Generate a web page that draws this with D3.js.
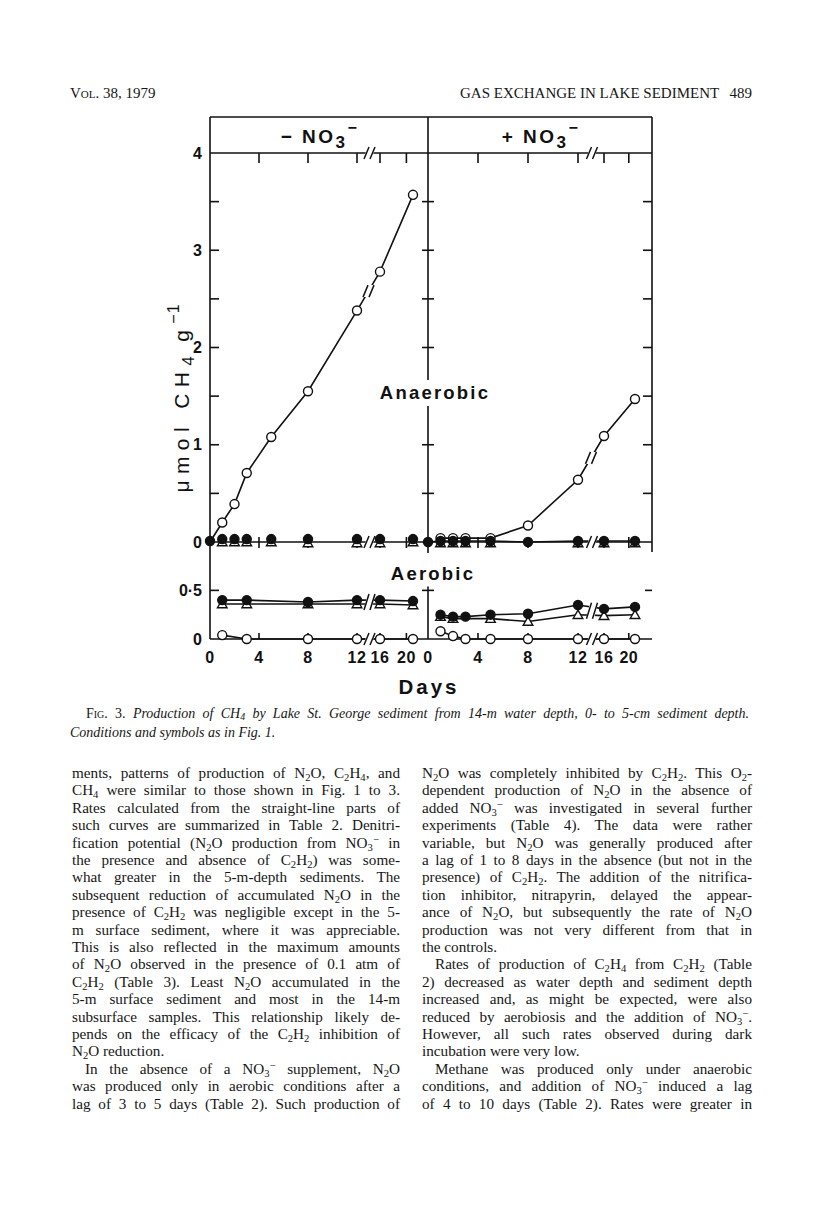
<!DOCTYPE html>
<html><head><meta charset="utf-8">
<script src="https://cdn.jsdelivr.net/npm/d3@7/dist/d3.min.js"></script>
<style>
body{margin:0;background:#fff;}
#page{position:relative;width:816px;height:1211px;overflow:hidden;background:#fff;}
#page svg{position:absolute;left:0;top:0;}
.ln{position:absolute;white-space:nowrap;font-family:"Liberation Serif","Times New Roman",serif;font-size:15.2px;line-height:17.4px;color:#161616;}
.cap{position:absolute;white-space:nowrap;font-family:"Liberation Serif",serif;font-size:14px;line-height:18px;color:#161616;}
.hd{position:absolute;white-space:nowrap;font-family:"Liberation Serif",serif;font-size:15px;line-height:18px;color:#161616;}
sub{font-size:0.7em;vertical-align:-0.25em;line-height:0;}
sup{font-size:0.7em;vertical-align:0.45em;line-height:0;}
.sc{font-variant:small-caps;font-style:normal;}
</style></head>
<body><div id="page"></div>
<script>
// ---------------- DATA ----------------
const dayTicks = [0, 4, 8, 12, 16, 20];
const yTicksAnaerobic = [0, 1, 2, 3, 4];
const yTicksAerobic = [0, 0.5];
const panelHeaders = ["−NO3", "+NO3"];

// − NO3− panel, anaerobic
const L_an_open_days = [0, 1, 2, 3, 5, 8, 12, 16, 21];
const L_an_open = [0, 0.20, 0.39, 0.71, 1.08, 1.55, 2.38, 2.78, 3.57];
const L_an_filled_days = [0, 1, 2, 3, 5, 8, 12, 16, 21];
const L_an_filled = [0.01, 0.03, 0.03, 0.03, 0.03, 0.03, 0.03, 0.03, 0.03];
const L_an_tri_days = [1, 2, 3, 5, 8, 12, 16, 21];
const L_an_tri = [0, 0, 0, 0, -0.01, -0.01, -0.01, 0];
// − NO3− panel, aerobic
const L_ae_filled_days = [1, 3, 8, 12, 16, 21];
const L_ae_filled = [0.40, 0.40, 0.38, 0.40, 0.40, 0.39];
const L_ae_tri_days = [1, 3, 8, 12, 16, 21];
const L_ae_tri = [0.36, 0.36, 0.36, 0.36, 0.36, 0.35];
const L_ae_open_days = [1, 3, 8, 12, 16, 21];
const L_ae_open = [0.04, 0, 0, 0, 0, 0];

// + NO3− panel, anaerobic
const R_an_open_days = [1, 2, 3, 5, 8, 12, 16, 21];
const R_an_open = [0.04, 0.04, 0.04, 0.04, 0.17, 0.64, 1.09, 1.47];
const R_an_filled_days = [0, 1, 2, 3, 5, 8, 12, 16, 21];
const R_an_filled = [0, 0.01, 0.01, 0.01, 0.01, 0, 0.01, 0.01, 0.01];
const R_an_tri_days = [1, 2, 3, 5, 12, 16, 21];
const R_an_tri = [-0.01, -0.01, -0.01, -0.01, -0.01, -0.01, -0.01];
// + NO3− panel, aerobic
const R_ae_filled_days = [1, 2, 3, 5, 8, 12, 16, 21];
const R_ae_filled = [0.25, 0.23, 0.23, 0.25, 0.26, 0.35, 0.31, 0.33];
const R_ae_tri_days = [1, 2, 5, 8, 12, 16, 21];
const R_ae_tri = [0.23, 0.21, 0.21, 0.18, 0.25, 0.24, 0.25];
const R_ae_open_days = [1, 2, 3, 5, 8, 12, 16, 21];
const R_ae_open = [0.08, 0.03, 0, 0, 0, 0, 0, 0];

// ---------------- TEXT ----------------
const captionLines = [
  '<span class="sc">Fig.</span> 3. <i>Production of CH<sub>4</sub> by Lake St. George sediment from 14-m water depth, 0- to 5-cm sediment depth.</i>',
  '<i>Conditions and symbols as in Fig. 1.</i>'
];
const leftCol = [
 'ments, patterns of production of N<sub>2</sub>O, C<sub>2</sub>H<sub>4</sub>, and',
 'CH<sub>4</sub> were similar to those shown in Fig. 1 to 3.',
 'Rates calculated from the straight-line parts of',
 'such curves are summarized in Table 2. Denitri-',
 'fication potential (N<sub>2</sub>O production from NO<sub>3</sub><sup>−</sup> in',
 'the presence and absence of C<sub>2</sub>H<sub>2</sub>) was some-',
 'what greater in the 5-m-depth sediments. The',
 'subsequent reduction of accumulated N<sub>2</sub>O in the',
 'presence of C<sub>2</sub>H<sub>2</sub> was negligible except in the 5-',
 'm surface sediment, where it was appreciable.',
 'This is also reflected in the maximum amounts',
 'of N<sub>2</sub>O observed in the presence of 0.1 atm of',
 'C<sub>2</sub>H<sub>2</sub> (Table 3). Least N<sub>2</sub>O accumulated in the',
 '5-m surface sediment and most in the 14-m',
 'subsurface samples. This relationship likely de-',
 'pends on the efficacy of the C<sub>2</sub>H<sub>2</sub> inhibition of',
 'N<sub>2</sub>O reduction.',
 'In the absence of a NO<sub>3</sub><sup>−</sup> supplement, N<sub>2</sub>O',
 'was produced only in aerobic conditions after a',
 'lag of 3 to 5 days (Table 2). Such production of'
];
const leftEnds = [16];
const leftIndents = [17];
const rightCol = [
 'N<sub>2</sub>O was completely inhibited by C<sub>2</sub>H<sub>2</sub>. This O<sub>2</sub>-',
 'dependent production of N<sub>2</sub>O in the absence of',
 'added NO<sub>3</sub><sup>−</sup> was investigated in several further',
 'experiments (Table 4). The data were rather',
 'variable, but N<sub>2</sub>O was generally produced after',
 'a lag of 1 to 8 days in the absence (but not in the',
 'presence) of C<sub>2</sub>H<sub>2</sub>. The addition of the nitrifica-',
 'tion inhibitor, nitrapyrin, delayed the appear-',
 'ance of N<sub>2</sub>O, but subsequently the rate of N<sub>2</sub>O',
 'production was not very different from that in',
 'the controls.',
 'Rates of production of C<sub>2</sub>H<sub>4</sub> from C<sub>2</sub>H<sub>2</sub> (Table',
 '2) decreased as water depth and sediment depth',
 'increased and, as might be expected, were also',
 'reduced by aerobiosis and the addition of NO<sub>3</sub><sup>−</sup>.',
 'However, all such rates observed during dark',
 'incubation were very low.',
 'Methane was produced only under anaerobic',
 'conditions, and addition of NO<sub>3</sub><sup>−</sup> induced a lag',
 'of 4 to 10 days (Table 2). Rates were greater in'
];
const rightEnds = [10, 16];
const rightIndents = [11, 17];

// ---------------- PAGE ----------------
const page = d3.select('#page');
function textLine(cls, x, top, width, html, justify) {
  const d = page.append('div').attr('class', cls).style('left', x + 'px').style('top', top + 'px').html(html);
  if (justify) {
    const natural = d.node().getBoundingClientRect().width;
    const spaces = (d.node().textContent.match(/ /g) || []).length;
    if (spaces > 0) d.style('word-spacing', ((width - natural) / spaces) + 'px');
  }
  return d;
}
// running head
textLine('hd', 70, 84, 0, 'V<span class="sc">ol.</span> 38, 1979', false);
textLine('hd', 460, 84, 0, 'GAS EXCHANGE IN LAKE SEDIMENT', false);
const pn = textLine('hd', 0, 84, 0, '489', false);
pn.style('left', (752 - pn.node().getBoundingClientRect().width) + 'px');

// caption
textLine('cap', 86, 705, 749 - 86, captionLines[0], true);
textLine('cap', 70, 724, 0, captionLines[1], false);

// body columns
const lh = 17.4, top0 = 764;
leftCol.forEach((s, i) => {
  const ind = leftIndents.includes(i) ? 13 : 0;
  textLine('ln', 72 + ind, top0 + i * lh, 400 - 72 - ind, s, !leftEnds.includes(i));
});
rightCol.forEach((s, i) => {
  const ind = rightIndents.includes(i) ? 13 : 0;
  textLine('ln', 422 + ind, top0 + i * lh, 752 - 422 - ind, s, !rightEnds.includes(i));
});

// ---------------- CHART ----------------
const svg = page.append('svg').attr('width', 816).attr('height', 700);
const ink = '#111';
const frameTop = 117, frameLeft = 210, frameRight = 652, divider = 428;

const yAn = d3.scaleLinear().domain([0, 4]).range([542, 153]);
const yAe = d3.scaleLinear().domain([0, 0.5]).range([639, 639 - (yAn(0) - yAn(0.5))]);
const xL = d3.scaleLinear().domain([0, 12, 16, 21]).range([210, 357, 380, 413]);
const xR = d3.scaleLinear().domain([0, 12, 16, 21]).range([428, 578, 604, 635]);

const g = svg.append('g').attr('stroke', ink).attr('fill', 'none').attr('stroke-width', 1.6);
function seg(x1, y1, x2, y2, w) {
  g.append('line').attr('x1', x1).attr('y1', y1).attr('x2', x2).attr('y2', y2).attr('stroke-width', w || 1.6);
}

// frame
seg(frameLeft, frameTop, frameRight, frameTop);
seg(frameLeft, frameTop, frameLeft, yAe(0));
seg(frameRight, frameTop, frameRight, yAn(0) + 10);
seg(frameLeft, yAn(4), frameRight, yAn(4));           // top axis (value 4)
seg(frameLeft, yAn(0), frameRight, yAn(0));           // anaerobic zero line
seg(frameLeft, yAe(0), frameRight, yAe(0));           // bottom axis
// aerobic right-panel axis
seg(divider, yAe(0.5) - 4, divider, yAe(0));

// y ticks (every 0.5)
const halfSteps = d3.range(0.5, 4, 0.5);
halfSteps.forEach(v => {
  seg(frameLeft, yAn(v), frameLeft + 9, yAn(v));
  seg(frameRight - 9, yAn(v), frameRight, yAn(v));
});
seg(frameLeft, yAe(0.5), frameLeft + 9, yAe(0.5));
seg(frameRight - 7, yAe(0.5), frameRight, yAe(0.5));
seg(divider - 6, yAe(0.5), divider + 6, yAe(0.5));

// x ticks
[xL, xR].forEach(x => {
  dayTicks.slice(1).forEach(d => {
    seg(x(d), yAn(4), x(d), yAn(4) + 10);
    seg(x(d), yAn(0) - 5, x(d), yAn(0) + 6);
    seg(x(d), yAe(0), x(d), yAe(0) - 6);
  });
});

// x tick labels
const lblFont = '"Liberation Sans", Arial, sans-serif';
[xL, xR].forEach(x => {
  svg.append('g').selectAll('text').data(dayTicks).join('text')
    .attr('x', d => x(d)).attr('y', 663).attr('text-anchor', 'middle')
    .attr('font-family', lblFont).attr('font-weight', 'bold').attr('font-size', 16)
    .attr('letter-spacing', 0.5).attr('fill', ink).text(d => d);
});
// y tick labels
svg.append('g').selectAll('text').data(yTicksAnaerobic).join('text')
  .attr('x', 202).attr('y', d => yAn(d) + 5.5).attr('text-anchor', 'end')
  .attr('font-family', lblFont).attr('font-weight', 'bold').attr('font-size', 16)
  .attr('fill', ink).text(d => d);
svg.append('g').selectAll('text').data(yTicksAerobic).join('text')
  .attr('x', 202).attr('y', d => yAe(d) + 5.5).attr('text-anchor', 'end')
  .attr('font-family', lblFont).attr('font-weight', 'bold').attr('font-size', 16)
  .attr('fill', ink).text(d => d === 0 ? '0' : '0·5');

// panel headers
const hdrX = [(frameLeft + divider) / 2 + 1, (divider + frameRight) / 2 + 1];
panelHeaders.forEach((h, i) => {
  const t = svg.append('text').attr('x', hdrX[i]).attr('y', 143).attr('text-anchor', 'middle')
    .attr('font-family', lblFont).attr('font-weight', 600).attr('font-size', 19)
    .attr('letter-spacing', 2.5).attr('fill', ink);
  t.append('tspan').text(h[0] + ' ');
  t.append('tspan').text(h.slice(1, 3));
  t.append('tspan').attr('dy', 5).attr('font-size', 17).text(h[3]);
  t.append('tspan').attr('dy', -15).attr('font-size', 16).text('−');
});

// Anaerobic / Aerobic labels with gap in divider
const mid = divider + 7;
const anT = svg.append('text').attr('x', mid).attr('y', 399).attr('text-anchor', 'middle')
  .attr('font-family', lblFont).attr('font-weight', 600).attr('font-size', 18.5)
  .attr('letter-spacing', 2.2).attr('fill', ink).text('Anaerobic');
const aeT = svg.append('text').attr('x', mid - 2).attr('y', 580).attr('text-anchor', 'middle')
  .attr('font-family', lblFont).attr('font-weight', 600).attr('font-size', 18.5)
  .attr('letter-spacing', 2.2).attr('fill', ink).text('Aerobic');
const bb = anT.node().getBBox();
seg(divider, frameTop, divider, bb.y - 2);
seg(divider, bb.y + bb.height + 3, divider, yAn(0) + 11);
halfSteps.forEach(v => {
  const y = yAn(v);
  if (y < bb.y - 2 || y > bb.y + bb.height + 3) seg(divider - 6, y, divider + 6, y);
});

// axis titles
const yt = svg.append('text').attr('transform', 'translate(189,398) rotate(-90)')
  .attr('text-anchor', 'middle').attr('font-family', lblFont).attr('font-weight', 500).attr('font-size', 21)
  .attr('letter-spacing', 6.4).attr('fill', ink);
yt.append('tspan').text('μmol CH');
yt.append('tspan').attr('dy', 5).attr('font-size', 17).text('4');
yt.append('tspan').attr('dy', -5).attr('dx', 8).text('g');
yt.append('tspan').attr('dy', -10).attr('font-size', 16).attr('letter-spacing', 1).text('−1');
svg.append('text').attr('x', 429).attr('y', 694).attr('text-anchor', 'middle')
  .attr('font-family', lblFont).attr('font-weight', 600).attr('font-size', 20.5)
  .attr('letter-spacing', 3).attr('fill', ink).text('Days');

// break marks
function breakMark(x, y, h) {
  h = h || 6;
  svg.append('polygon').attr('points', [[x - 4 - 2, y + h], [x - 4 + 2, y - h], [x + 4 + 2, y - h], [x + 4 - 2, y + h]].join(' '))
    .attr('fill', '#fff');
  [-3, 3].forEach(o => svg.append('line').attr('x1', x + o - 2.5).attr('y1', y + h).attr('x2', x + o + 2.5).attr('y2', y - h)
    .attr('stroke', ink).attr('stroke-width', 1.5));
}

function series(x, y, days, vals) {
  const pts = days.map((d, i) => [x(d), y(vals[i])]);
  svg.append('path').attr('d', d3.line()(pts)).attr('fill', 'none').attr('stroke', ink).attr('stroke-width', 1.6);
}
function markers(x, y, days, vals, kind) {
  const sym = kind === 'tri' ? d3.symbolTriangle : d3.symbolCircle;
  const size = kind === 'tri' ? 40 : 64;
  svg.append('g').selectAll('path').data(days).join('path')
    .attr('transform', (d, i) => `translate(${x(d)},${y(vals[i]) + (kind === 'tri' ? 1 : 0)})`)
    .attr('d', d3.symbol().type(sym).size(size))
    .attr('fill', kind === 'filled' ? ink : '#fff').attr('stroke', ink).attr('stroke-width', 1.4);
}
function midBreak(x, y, days, vals) {
  const i12 = days.indexOf(12), i16 = days.indexOf(16);
  const xm = (x(12) + x(16)) / 2;
  const ym = (y(vals[i12]) + y(vals[i16])) / 2;
  breakMark(xm, ym);
}

// lines
series(xL, yAn, L_an_open_days, L_an_open);
series(xL, yAe, L_ae_filled_days, L_ae_filled);
series(xL, yAe, L_ae_tri_days, L_ae_tri);
series(xL, yAe, L_ae_open_days, L_ae_open);
series(xR, yAn, R_an_open_days, R_an_open);
series(xR, yAn, R_an_filled_days, R_an_filled);
series(xR, yAe, R_ae_filled_days, R_ae_filled);
series(xR, yAe, R_ae_tri_days, R_ae_tri);
series(xR, yAe, R_ae_open_days, R_ae_open);

// breaks
[xL, xR].forEach(x => {
  const xm = (x(12) + x(16)) / 2 + 1;
  breakMark(xm, yAn(4));
  breakMark(xm, yAn(0));
  breakMark(xm, yAe(0));
});
midBreak(xL, yAn, L_an_open_days, L_an_open);
midBreak(xR, yAn, R_an_open_days, R_an_open);
breakMark((xL(12) + xL(16)) / 2 + 1, yAe(0.38), 8);
breakMark((xR(12) + xR(16)) / 2 + 1, yAe(0.29), 8);

// markers: triangles, then open circles, then filled
markers(xL, yAn, L_an_tri_days, L_an_tri, 'tri');
markers(xL, yAe, L_ae_tri_days, L_ae_tri, 'tri');
markers(xR, yAn, R_an_tri_days, R_an_tri, 'tri');
markers(xR, yAe, R_ae_tri_days, R_ae_tri, 'tri');
markers(xL, yAn, L_an_open_days.slice(1), L_an_open.slice(1), 'open');
markers(xL, yAe, L_ae_open_days, L_ae_open, 'open');
markers(xR, yAn, R_an_open_days, R_an_open, 'open');
markers(xR, yAe, R_ae_open_days, R_ae_open, 'open');
markers(xL, yAn, L_an_filled_days, L_an_filled, 'filled');
markers(xL, yAe, L_ae_filled_days, L_ae_filled, 'filled');
markers(xR, yAn, R_an_filled_days, R_an_filled, 'filled');
markers(xR, yAe, R_ae_filled_days, R_ae_filled, 'filled');
</script>
</body></html>
